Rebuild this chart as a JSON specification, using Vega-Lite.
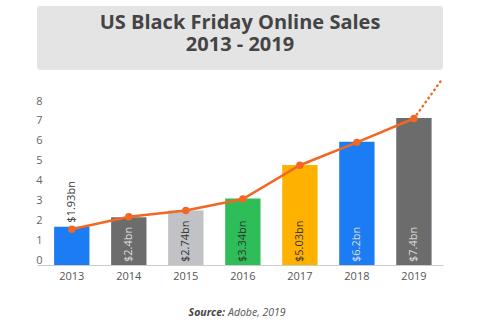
{
  "$schema": "https://vega.github.io/schema/vega-lite/v6.json",
  "background": "white",
  "padding": {"left": 35, "top": 6, "right": 38, "bottom": 6},
  "config": {"view": {"stroke": null}, "font": "Open Sans"},
  "bounds": "flush",
  "spacing": 36,
  "datasets": {
    "sales": [
      {"year": "2013", "value": 1.93, "trend": 1.8, "label": "$1.93bn"},
      {"year": "2014", "value": 2.4, "trend": 2.43, "label": "$2.4bn"},
      {"year": "2015", "value": 2.74, "trend": 2.74, "label": "$2.74bn"},
      {"year": "2016", "value": 3.34, "trend": 3.32, "label": "$3.34bn"},
      {"year": "2017", "value": 5.03, "trend": 5.02, "label": "$5.03bn"},
      {"year": "2018", "value": 6.2, "trend": 6.17, "label": "$6.2bn"},
      {"year": "2019", "value": 7.4, "trend": 7.37, "label": "$7.4bn"}
    ],
    "projection": [
      {"yr": 2019, "v": 7.37},
      {"yr": 2019.5, "v": 9.37}
    ]
  },
  "vconcat": [
    {
      "width": 406,
      "height": 64,
      "view": {"fill": "#e4e4e4", "cornerRadius": 3, "stroke": null},
      "layer": [
        {
          "data": {"values": [{"t": "US Black Friday Online Sales"}]},
          "mark": {"type": "text", "baseline": "middle", "fontSize": 20, "fontWeight": "bold", "color": "#444444", "dy": -15},
          "encoding": {"text": {"field": "t", "type": "nominal"}}
        },
        {
          "data": {"values": [{"t": "2013 - 2019"}]},
          "mark": {"type": "text", "baseline": "middle", "fontSize": 20, "fontWeight": "bold", "color": "#444444", "dy": 7},
          "encoding": {"text": {"field": "t", "type": "nominal"}}
        }
      ]
    },
    {
      "width": 406,
      "height": 159,
      "encoding": {
        "y": {
          "type": "quantitative",
          "scale": {"domain": [0, 8], "nice": false},
          "axis": {"values": [0, 1, 2, 3, 4, 5, 6, 7, 8], "grid": false, "domain": false, "ticks": false, "tickSize": 0, "labelPadding": -5, "labelOffset": -5, "labelColor": "#666666", "labelFontSize": 11, "title": null}
        }
      },
      "layer": [
        {
          "data": {"name": "sales"},
          "encoding": {
            "x": {"field": "year", "type": "ordinal", "scale": {"paddingInner": 0.38, "paddingOuter": 0.25, "align": 0.6},
              "axis": {"labelAngle": 0, "domainColor": "#cccccc", "ticks": false, "labelPadding": 5, "labelColor": "#555555", "labelFontSize": 11, "title": null}}
          },
          "layer": [
            {
              "mark": {"type": "bar"},
              "encoding": {
                "y": {"field": "value"},
                "color": {"field": "year", "type": "nominal", "legend": null,
                  "scale": {"domain": ["2013", "2014", "2015", "2016", "2017", "2018", "2019"],
                    "range": ["#1b7cf3", "#6c6c6c", "#c0c2c5", "#2ebd59", "#ffb100", "#1b7cf3", "#6c6c6c"]}}
              }
            },
            {
              "mark": {"type": "line", "color": "#f26722", "strokeWidth": 2.5,
                "point": {"filled": true, "size": 55, "color": "#f26722"}},
              "encoding": {
                "y": {"field": "trend"}
              }
            },
            {
              "transform": [{"filter": "datum.year != '2013'"}],
              "mark": {"type": "text", "angle": 270, "align": "left", "baseline": "middle", "dx": 3, "fontSize": 11},
              "encoding": {
                "y": {"datum": 0},
                "text": {"field": "label"},
                "color": {"condition": {"test": "indexof(['2014','2018','2019'], datum.year) >= 0", "value": "#dddddd"}, "value": "#333333"}
              }
            },
            {
              "transform": [{"filter": "datum.year == '2013'"}],
              "mark": {"type": "text", "angle": 270, "align": "left", "baseline": "middle", "dx": 4, "fontSize": 11, "color": "#333333"},
              "encoding": {
                "y": {"field": "value"},
                "text": {"field": "label"}
              }
            }
          ]
        },
        {
          "data": {"name": "projection"},
          "mark": {"type": "line", "color": "#f26722", "strokeWidth": 2.5, "strokeDash": [0.5, 4.5], "strokeCap": "round"},
          "encoding": {
            "x": {"field": "yr", "type": "quantitative", "scale": {"domain": [2012.39, 2019.51], "nice": false, "zero": false}, "axis": null},
            "y": {"field": "v"}
          }
        }
      ],
      "resolve": {"scale": {"x": "independent"}}
    },
    {
      "width": 406,
      "height": 24,
      "layer": [
        {
          "data": {"values": [{"s": "Source:"}]},
          "mark": {"type": "text", "align": "right", "baseline": "middle", "fontStyle": "italic", "fontWeight": "bold", "fontSize": 10.5, "color": "#444444", "dx": -15},
          "encoding": {"text": {"field": "s", "type": "nominal"}}
        },
        {
          "data": {"values": [{"s": "Adobe, 2019"}]},
          "mark": {"type": "text", "align": "left", "baseline": "middle", "fontStyle": "italic", "fontSize": 10.5, "color": "#555555", "dx": -12},
          "encoding": {"text": {"field": "s", "type": "nominal"}}
        }
      ]
    }
  ]
}
